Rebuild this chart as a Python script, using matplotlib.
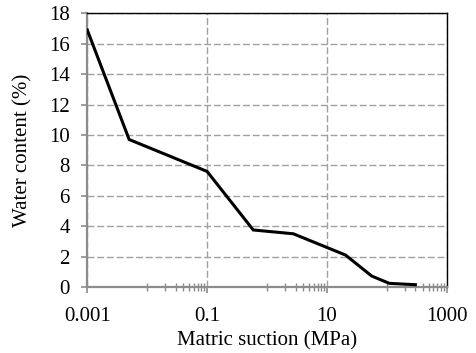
import numpy as np
import matplotlib
matplotlib.use("Agg")
import matplotlib.pyplot as plt
from matplotlib.ticker import FixedLocator, NullFormatter

# Soil-water retention data
suction = [0.001, 0.005, 0.1, 0.59, 2.75, 20.5, 56, 110, 300]   # MPa
water_content = [16.9, 9.7, 7.6, 3.75, 3.5, 2.1, 0.72, 0.24, 0.15]  # %

x_major = [0.001, 0.1, 10, 1000]
x_major_labels = ["0.001", "0.1", "10", "1000"]
y_major = [0, 2, 4, 6, 8, 10, 12, 14, 16, 18]

plt.rcParams['font.family'] = ['Liberation Serif', 'DejaVu Serif']

fig = plt.figure(figsize=(4.76, 3.53), dpi=100)
ax = fig.add_axes([0.1834, 0.187, 0.755, 0.7753])

ax.plot(suction, water_content, color='black', linewidth=2.2, solid_joinstyle='miter', zorder=3)

ax.set_xscale('log')
ax.set_xlim(0.001, 1000)
ax.set_ylim(0, 18)

ax.xaxis.set_major_locator(FixedLocator(x_major))
ax.set_xticklabels(x_major_labels)
minor = [k * 10.0 ** e for e in (-2, 0, 2) for k in range(1, 10)]
ax.xaxis.set_minor_locator(FixedLocator(minor))
ax.xaxis.set_minor_formatter(NullFormatter())
ax.set_yticks(y_major)

# Grid: dashed grey
grid_color = '#a0a0a0'
ax.grid(True, which='major', axis='both', color=grid_color, linestyle=(0, (5, 2)), linewidth=1.0, zorder=1)

# Spines
for side in ('left', 'bottom'):
    ax.spines[side].set_color('#8c8c8c')
    ax.spines[side].set_linewidth(1.6)
for side in ('top', 'right'):
    ax.spines[side].set_color('black')
    ax.spines[side].set_linewidth(1.0)

ax.tick_params(axis='both', which='major', direction='out', length=4.5, width=1.2,
               color='#8c8c8c', labelsize=15, top=False, right=False)
ax.tick_params(axis='x', which='minor', direction='inout', length=5.5, width=1.0,
               color='#8c8c8c', top=False)
ax.tick_params(axis='x', which='major', pad=10)
ax.tick_params(axis='y', which='major', pad=8)

ax.set_xlabel('Matric suction (MPa)', fontsize=15, labelpad=4)
ax.set_ylabel('Water content (%)', fontsize=15, labelpad=12)

fig.savefig('out.png', dpi=100)
